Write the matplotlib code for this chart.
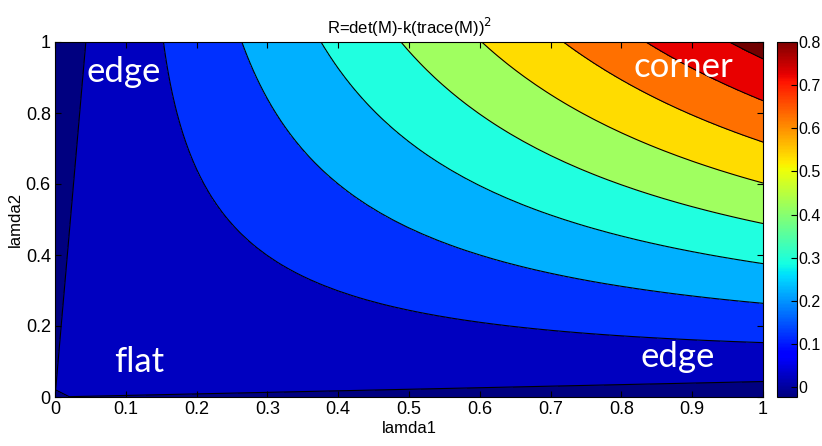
import numpy as np
import matplotlib
matplotlib.use("Agg")
import matplotlib.pyplot as plt
from matplotlib.colors import Normalize

# Harris response R = l1*l2 - k*(l1+l2)^2 on the eigenvalue grid
k = 0.04
lamda1 = np.linspace(0, 1, 51)
lamda2 = np.linspace(0, 1, 51)
levels = [-0.04, 0, 0.1, 0.2, 0.3, 0.4, 0.5, 0.6, 0.7, 0.8, 0.84]
band_colors = ['#000080', '#0000c0', '#0030ff', '#00b0ff', '#20ffe0',
               '#a0ff60', '#ffdc00', '#ff7000', '#e80000', '#700000']
cbar_ticks = [0, 0.1, 0.2, 0.3, 0.4, 0.5, 0.6, 0.7, 0.8]
cbar_range = (-0.023, 0.8)
labels = [("edge", 0.097, 0.915), ("corner", 0.887, 0.93),
          ("flat", 0.119, 0.10), ("edge", 0.879, 0.113)]

L1, L2 = np.meshgrid(lamda1, lamda2)
R = L1 * L2 - k * (L1 + L2) ** 2

plt.rcParams['font.family'] = ['Liberation Sans', 'DejaVu Sans']

fig = plt.figure(figsize=(8.22, 4.46), dpi=100)
ax = fig.add_axes([55/822, 1 - 397/446, 708/822, 355/446])
cax = fig.add_axes([777/822, 1 - 397/446, 20/822, 355/446])

ax.contourf(L1, L2, R, levels=levels, colors=band_colors)
ax.contour(L1, L2, R, levels=levels[1:-1], colors='k', linewidths=0.8)

ax.set_xlim(0, 1)
ax.set_ylim(0, 1)
ax.set_xticks(np.arange(0, 1.01, 0.1))
ax.set_xticklabels(['0', '0.1', '0.2', '0.3', '0.4', '0.5', '0.6', '0.7', '0.8', '0.9', '1'])
ax.set_yticks(np.arange(0, 1.01, 0.2))
ax.set_yticklabels(['0', '0.2', '0.4', '0.6', '0.8', '1'])
ax.tick_params(direction='in', top=True, right=True, labelsize=13, length=4, pad=3)
ax.set_title("R=det(M)-k(trace(M))$^2$", fontsize=12, pad=6)
ax.set_xlabel("lamda1", fontsize=12, labelpad=2)
ax.set_ylabel("lamda2", fontsize=12, labelpad=2)

for txt, x, y in labels:
    ax.text(x, y, txt, color='white', fontsize=25, family=['Lato', 'DejaVu Sans'],
            ha='center', va='center', transform=ax.transAxes)

sm = plt.cm.ScalarMappable(norm=Normalize(*cbar_range), cmap='jet')
cb = fig.colorbar(sm, cax=cax, ticks=cbar_ticks)
cb.ax.set_yticklabels(['0', '0.1', '0.2', '0.3', '0.4', '0.5', '0.6', '0.7', '0.8'])
cb.ax.tick_params(direction='in', labelsize=11.5, length=4, pad=1)
cb.outline.set_linewidth(0.8)

fig.savefig("out.png", dpi=100)
